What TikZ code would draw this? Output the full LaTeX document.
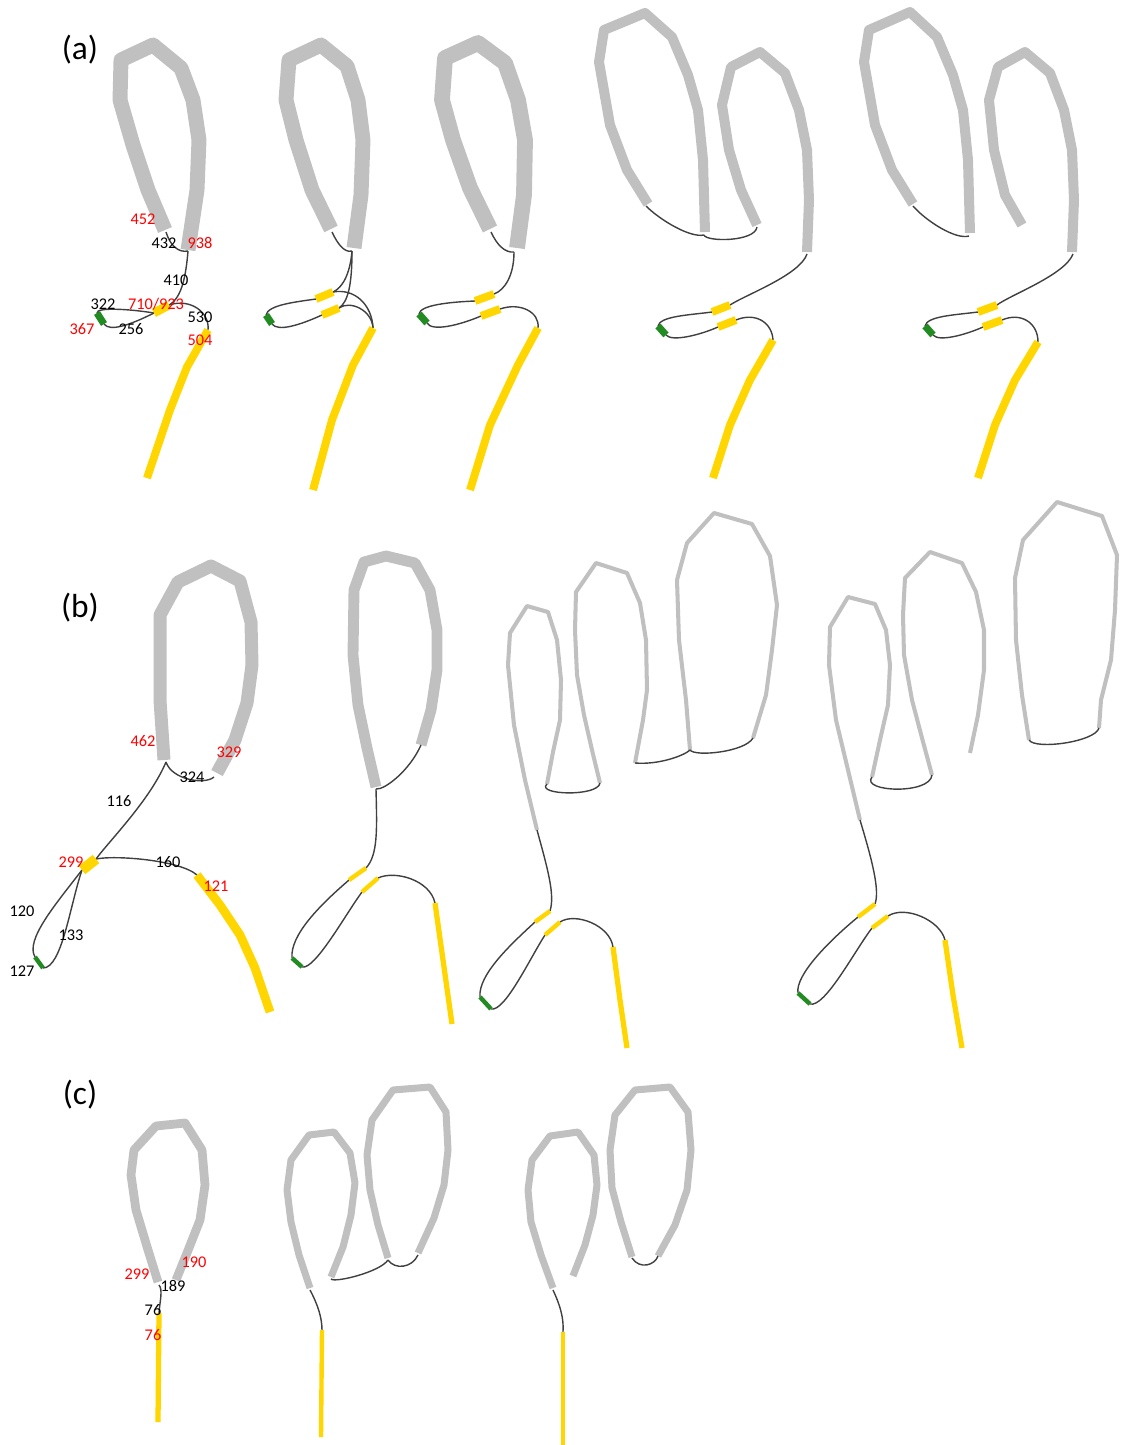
\documentclass[tikz,border=0pt]{standalone}
\usepackage{fontspec}
\setmainfont{Carlito}
\usetikzlibrary{calc,positioning}

\definecolor{helixgrey}{RGB}{192,192,192}
\definecolor{strandyellow}{RGB}{255,214,0}
\definecolor{turngreen}{RGB}{34,139,34}
\definecolor{loopgrey}{RGB}{64,64,64}

\tikzset{
  helix/.style={draw=helixgrey,line width=#1,line join=round},
  strand/.style={draw=strandyellow,line width=#1},
  turn/.style={draw=turngreen,line width=#1},
  link/.style={draw=loopgrey,line width=0.8pt},
  num/.style={inner sep=0pt,font=\fontsize{9.3}{10}\selectfont},
  rnum/.style={num,text=red},
  panel/.style={inner sep=0pt,font=\fontsize{19}{22}\selectfont}
}

\begin{document}
\begin{tikzpicture}[x=0.02cm,y=-0.02cm]
  \useasboundingbox (0,0) rectangle (1129,1445);

  \node[panel] (pa) at (80,50) {(a)};
  \node[panel] (pb) at (80,608) {(b)};
  \node[panel] (pc) at (80,1095) {(c)};

  % (a) first
  \begin{scope}
    \draw[helix=8.5pt] (165,230) -- (148,190) -- (133,145) -- (120,100) -- (121,60) -- (153,45)
      -- (181,68) -- (193,100) -- (199,140) -- (197,190) -- (188,250);
    \coordinate (a1h1) at (166,232);
    \coordinate (a1h2) at (188,251);
    \coordinate (a1s1) at (154,313);
    \coordinate (a1s2) at (169,305);
    \coordinate (a1g1) at (97,313);
    \coordinate (a1g2) at (104,324);
    \coordinate (a1t) at (208,330);
    \draw[link] (a1h1) .. controls (170,245) and (178,253) .. (a1h2);
    \draw[link] (a1h2) .. controls (186,275) and (182,298) .. (a1s2);
    \draw[link] (a1g1) .. controls (96,307) and (130,309) .. (a1s1);
    \draw[link] (a1g2) .. controls (110,332) and (130,325) .. (a1s1);
    \draw[link] (a1s2) .. controls (190,298) and (210,312) .. (a1t);
    \draw[strand=5pt] (a1s1) -- (a1s2);
    \draw[turn=4pt] (a1g1) -- (a1g2);
    \draw[strand=4.5pt] (a1t) -- (187,367) -- (170,410) -- (147,478);
    \node[rnum] (l452) at (143,219) {452};
    \node[num] (l432) at (164,243) {432};
    \node[rnum] (l938) at (200,243) {938};
    \node[num] (l410) at (176,280) {410};
    \node[num] (l322) at (103,304) {322};
    \node[rnum] (l710) at (156,304) {710/923};
    \node[rnum] (l367) at (82,329) {367};
    \node[num] (l256) at (131,329) {256};
    \node[num] (l530) at (200,317) {530};
    \node[rnum] (l504) at (200,340) {504};
  \end{scope}

  % (a) second
  \begin{scope}
    \draw[helix=8.5pt] (331,229) -- (312,190) -- (296,140) -- (286,100) -- (289,60) -- (321,45)
      -- (347,66) -- (358,100) -- (363,140) -- (361,195) -- (354,248);
    \coordinate (a2h1) at (332,232);
    \coordinate (a2h2) at (352,251);
    \coordinate (a2u1) at (316,299);
    \coordinate (a2u2) at (333,292);
    \coordinate (a2l1) at (322,315);
    \coordinate (a2l2) at (339,308);
    \coordinate (a2g1) at (266,315);
    \coordinate (a2g2) at (272,324);
    \coordinate (a2t) at (373,328);
    \draw[link] (a2h1) .. controls (338,245) and (345,253) .. (a2h2);
    \draw[link] (a2h2) .. controls (350,275) and (342,288) .. (a2u2);
    \draw[link] (a2h2) .. controls (352,285) and (348,302) .. (a2l2);
    \draw[link] (a2u2) .. controls (355,288) and (372,305) .. (a2t);
    \draw[link] (a2l2) .. controls (350,300) and (372,310) .. (a2t);
    \draw[link] (a2g1) .. controls (268,305) and (295,302) .. (a2u1);
    \draw[link] (a2g2) .. controls (278,332) and (300,325) .. (a2l1);
    \draw[strand=4.5pt] (a2u1) -- (a2u2);
    \draw[strand=4.5pt] (a2l1) -- (a2l2);
    \draw[turn=4pt] (a2g1) -- (a2g2);
    \draw[strand=4.5pt] (a2t) -- (353,365) -- (332,420) -- (313,490);
  \end{scope}

  % (a) third
  \begin{scope}
    \draw[helix=9pt] (490,229) -- (470,188) -- (453,140) -- (442,100) -- (445,58) -- (478,43)
      -- (505,63) -- (518,100) -- (525,140) -- (524,195) -- (517,248);
    \coordinate (a3h1) at (491,232);
    \coordinate (a3h2) at (514,252);
    \coordinate (a3u1) at (475,301);
    \coordinate (a3u2) at (494,294);
    \coordinate (a3l1) at (481,316);
    \coordinate (a3l2) at (500,309);
    \coordinate (a3g1) at (419,314);
    \coordinate (a3g2) at (427,323);
    \coordinate (a3t) at (538,328);
    \draw[link] (a3h1) .. controls (497,245) and (505,253) .. (a3h2);
    \draw[link] (a3h2) .. controls (514,275) and (505,290) .. (a3u2);
    \draw[link] (a3g1) .. controls (420,305) and (450,302) .. (a3u1);
    \draw[link] (a3g2) .. controls (432,332) and (460,325) .. (a3l1);
    \draw[link] (a3l2) .. controls (520,302) and (540,312) .. (a3t);
    \draw[strand=4.5pt] (a3u1) -- (a3u2);
    \draw[strand=4.5pt] (a3l1) -- (a3l2);
    \draw[turn=4pt] (a3g1) -- (a3g2);
    \draw[strand=4.5pt] (a3t) -- (518,365) -- (490,425) -- (470,490);
  \end{scope}

  % (a) fourth
  \begin{scope}
    \draw[helix=5.7pt] (648,204) -- (627,170) -- (610,125) -- (599,62) -- (604,30) -- (645,13)
      -- (672,37) -- (688,75) -- (698,110) -- (703,160) -- (705,232);
    \draw[helix=5.7pt] (757,225) -- (741,190) -- (729,150) -- (722,105) -- (731,67) -- (760,52)
      -- (785,73) -- (799,110) -- (807,150) -- (809,200) -- (807,252);
    \coordinate (a4h1) at (646,206);
    \coordinate (a4h2) at (704,235);
    \coordinate (a4h3) at (757,227);
    \coordinate (a4h4) at (807,254);
    \coordinate (a4u1) at (712,312);
    \coordinate (a4u2) at (730,305);
    \coordinate (a4l1) at (718,327);
    \coordinate (a4l2) at (736,320);
    \coordinate (a4g1) at (658,326);
    \coordinate (a4g2) at (666,335);
    \coordinate (a4t) at (773,340);
    \draw[link] (a4h1) .. controls (660,220) and (690,238) .. (a4h2);
    \draw[link] (a4h2) .. controls (706,242) and (755,242) .. (a4h3);
    \draw[link] (a4h4) .. controls (800,275) and (745,295) .. (a4u2);
    \draw[link] (a4g1) .. controls (660,316) and (690,315) .. (a4u1);
    \draw[link] (a4g2) .. controls (672,342) and (700,335) .. (a4l1);
    \draw[link] (a4l2) .. controls (755,312) and (772,322) .. (a4t);
    \draw[strand=4.5pt] (a4u1) -- (a4u2);
    \draw[strand=4.5pt] (a4l1) -- (a4l2);
    \draw[turn=4pt] (a4g1) -- (a4g2);
    \draw[strand=4.5pt] (a4t) -- (750,380) -- (730,425) -- (713,478);
  \end{scope}

  % (a) fifth
  \begin{scope}
    \draw[helix=5.7pt] (913,204) -- (892,170) -- (875,125) -- (864,62) -- (869,30) -- (910,12)
      -- (937,37) -- (953,75) -- (963,110) -- (968,160) -- (970,233);
    \draw[helix=5.7pt] (1022,225) -- (1005,195) -- (994,150) -- (989,100) -- (998,67) -- (1025,52)
      -- (1050,73) -- (1064,110) -- (1072,150) -- (1074,200) -- (1072,252);
    \coordinate (a5h1) at (913,206);
    \coordinate (a5h2) at (969,236);
    \coordinate (a5h4) at (1073,254);
    \coordinate (a5u1) at (978,312);
    \coordinate (a5u2) at (997,305);
    \coordinate (a5l1) at (983,327);
    \coordinate (a5l2) at (1002,320);
    \coordinate (a5g1) at (925,326);
    \coordinate (a5g2) at (933,335);
    \coordinate (a5t) at (1038,342);
    \draw[link] (a5h1) .. controls (925,220) and (955,240) .. (a5h2);
    \draw[link] (a5h4) .. controls (1065,275) and (1010,295) .. (a5u2);
    \draw[link] (a5g1) .. controls (927,316) and (955,315) .. (a5u1);
    \draw[link] (a5g2) .. controls (939,342) and (965,335) .. (a5l1);
    \draw[link] (a5l2) .. controls (1020,312) and (1038,322) .. (a5t);
    \draw[strand=4.5pt] (a5u1) -- (a5u2);
    \draw[strand=4.5pt] (a5l1) -- (a5l2);
    \draw[turn=4pt] (a5g1) -- (a5g2);
    \draw[strand=4.5pt] (a5t) -- (1015,380) -- (995,425) -- (978,478);
  \end{scope}

  % (b) first
  \begin{scope}
    \draw[helix=7.4pt] (164,760) -- (160,700) -- (160,615) -- (178,582) -- (211,566) -- (240,581)
      -- (251,622) -- (252,665) -- (247,703) -- (235,740) -- (217,773);
    \coordinate (b1h1) at (166,762);
    \coordinate (b1h2) at (214,777);
    \coordinate (b1y1) at (82,870);
    \coordinate (b1y2) at (96,859);
    \coordinate (b1g1) at (35,957);
    \coordinate (b1g2) at (43,968);
    \coordinate (b1t) at (197,875);
    \draw[link] (b1h1) .. controls (172,780) and (205,785) .. (b1h2);
    \draw[link] (b1h1) .. controls (150,800) and (110,840) .. (b1y2);
    \draw[link] (b1y2) .. controls (115,855) and (180,860) .. (b1t);
    \draw[link] (b1y1) .. controls (55,905) and (25,940) .. (b1g1);
    \draw[link] (b1y1) .. controls (70,905) and (62,968) .. (b1g2);
    \draw[strand=6pt] (b1y1) -- (b1y2);
    \draw[turn=2.5pt] (b1g1) -- (b1g2);
    \draw[strand=5pt] (b1t) -- (220,905) -- (240,935) -- (255,968) -- (270,1012);
    \node[rnum] (l462) at (143,741) {462};
    \node[rnum] (l329) at (229,752) {329};
    \node[num] (l324) at (192,777) {324};
    \node[num] (l116) at (119,801) {116};
    \node[rnum] (l299) at (71,862) {299};
    \node[num] (l160) at (168,862) {160};
    \node[rnum] (l121) at (216,886) {121};
    \node[num] (l120) at (22,911) {120};
    \node[num] (l133) at (71,935) {133};
    \node[num] (l127) at (22,971) {127};
  \end{scope}

  % (b) second
  \begin{scope}
    \draw[helix=6.2pt] (376,787) -- (367,748) -- (358,705) -- (353,655) -- (354,590) -- (364,562)
      -- (386,556) -- (415,563) -- (430,590) -- (437,630) -- (437,670) -- (431,710) -- (421,745);
    \coordinate (b2h1) at (376,789);
    \coordinate (b2h2) at (421,745);
    \coordinate (b2u1) at (349,880);
    \coordinate (b2u2) at (366,868);
    \coordinate (b2l1) at (362,892);
    \coordinate (b2l2) at (378,878);
    \coordinate (b2g1) at (292,958);
    \coordinate (b2g2) at (302,967);
    \coordinate (b2t) at (435,903);
    \draw[link] (b2h1) .. controls (385,790) and (410,770) .. (b2h2);
    \draw[link] (b2h1) .. controls (377,830) and (378,855) .. (b2u2);
    \draw[link] (b2u1) .. controls (320,905) and (290,935) .. (b2g1);
    \draw[link] (b2g2) .. controls (315,970) and (345,915) .. (b2l1);
    \draw[link] (b2l2) .. controls (395,870) and (430,880) .. (b2t);
    \draw[strand=2.5pt] (b2u1) -- (b2u2);
    \draw[strand=2.5pt] (b2l1) -- (b2l2);
    \draw[turn=2.5pt] (b2g1) -- (b2g2);
    \draw[strand=3pt] (b2t) -- (443,960) -- (452,1024);
  \end{scope}

  % (b) third
  \begin{scope}
    \draw[helix=2.3pt] (537,830) -- (525,780) -- (514,725) -- (508,665) -- (510,633) -- (527,606)
      -- (548,612) -- (557,640) -- (561,680) -- (560,720) -- (553,752) -- (547,784);
    \draw[helix=2.3pt] (600,783) -- (592,750) -- (584,715) -- (577,675) -- (575,630) -- (576,592)
      -- (596,563) -- (627,573) -- (640,603) -- (646,640) -- (647,690) -- (643,720) -- (635,763);
    \draw[helix=2.3pt] (690,750) -- (686,700) -- (679,640) -- (677,580) -- (687,543) -- (714,513)
      -- (752,524) -- (770,556) -- (777,605) -- (772,650) -- (766,695) -- (753,738);
    \coordinate (b3h1) at (537,830);
    \coordinate (b3h2) at (547,784);
    \coordinate (b3h3) at (600,783);
    \coordinate (b3h4) at (635,763);
    \coordinate (b3h5) at (690,750);
    \coordinate (b3h6) at (753,738);
    \coordinate (b3u1) at (535,922);
    \coordinate (b3u2) at (550,911);
    \coordinate (b3l1) at (545,935);
    \coordinate (b3l2) at (560,922);
    \coordinate (b3g1) at (480,997);
    \coordinate (b3g2) at (491,1009);
    \coordinate (b3t) at (613,947);
    \draw[link] (b3h1) .. controls (548,870) and (555,895) .. (b3u2);
    \draw[link] (b3h2) .. controls (535,795) and (598,797) .. (b3h3);
    \draw[link] (b3h4) .. controls (660,765) and (685,755) .. (b3h5);
    \draw[link] (b3h5) .. controls (695,757) and (745,752) .. (b3h6);
    \draw[link] (b3u1) .. controls (510,945) and (478,975) .. (b3g1);
    \draw[link] (b3g2) .. controls (505,1012) and (530,958) .. (b3l1);
    \draw[link] (b3l2) .. controls (575,912) and (610,925) .. (b3t);
    \draw[strand=2.5pt] (b3u1) -- (b3u2);
    \draw[strand=2.5pt] (b3l1) -- (b3l2);
    \draw[turn=2.5pt] (b3g1) -- (b3g2);
    \draw[strand=3pt] (b3t) -- (620,1000) -- (627,1048);
  \end{scope}

  % (b) fourth
  \begin{scope}
    \draw[helix=2.3pt] (860,820) -- (848,770) -- (836,720) -- (829,665) -- (830,627) -- (848,597)
      -- (875,604) -- (886,630) -- (890,665) -- (888,705) -- (880,740) -- (872,777);
    \draw[helix=2.3pt] (932,775) -- (922,738) -- (912,700) -- (904,655) -- (903,615) -- (905,578)
      -- (930,552) -- (962,563) -- (976,592) -- (984,630) -- (984,670) -- (978,715) -- (970,753);
    \draw[helix=2.3pt] (1029,740) -- (1022,695) -- (1016,640) -- (1015,578) -- (1023,540) -- (1057,502)
      -- (1102,516) -- (1117,555) -- (1115,610) -- (1111,660) -- (1101,700) -- (1099,728);
    \coordinate (b4h1) at (860,820);
    \coordinate (b4h2) at (872,777);
    \coordinate (b4h3) at (932,775);
    \coordinate (b4h5) at (1029,740);
    \coordinate (b4h6) at (1099,728);
    \coordinate (b4u1) at (858,917);
    \coordinate (b4u2) at (875,904);
    \coordinate (b4l1) at (872,928);
    \coordinate (b4l2) at (888,916);
    \coordinate (b4g1) at (798,993);
    \coordinate (b4g2) at (810,1004);
    \coordinate (b4t) at (945,940);
    \draw[link] (b4h1) .. controls (872,860) and (880,890) .. (b4u2);
    \draw[link] (b4h2) .. controls (860,792) and (930,795) .. (b4h3);
    \draw[link] (b4h5) .. controls (1035,750) and (1095,742) .. (b4h6);
    \draw[link] (b4u1) .. controls (830,940) and (795,975) .. (b4g1);
    \draw[link] (b4g2) .. controls (825,1008) and (855,950) .. (b4l1);
    \draw[link] (b4l2) .. controls (905,905) and (940,920) .. (b4t);
    \draw[strand=2.5pt] (b4u1) -- (b4u2);
    \draw[strand=2.5pt] (b4l1) -- (b4l2);
    \draw[turn=2.5pt] (b4g1) -- (b4g2);
    \draw[strand=3pt] (b4t) -- (953,995) -- (962,1048);
  \end{scope}

  % (c) first
  \begin{scope}
    \draw[helix=5pt] (158,1282) -- (148,1250) -- (136,1210) -- (131,1175) -- (134,1150) -- (156,1126)
      -- (185,1123) -- (202,1150) -- (205,1185) -- (200,1220) -- (187,1253) -- (176,1280);
    \coordinate (c1h1) at (159,1285);
    \coordinate (c1s) at (159,1313);
    \draw[link] (c1h1) .. controls (163,1290) and (160,1300) .. (c1s);
    \draw[strand=3pt] (c1s) -- (158,1422);
    \node[rnum] (c299) at (137,1274) {299};
    \node[rnum] (c190) at (194,1262) {190};
    \node[num] (c189) at (173,1286) {189};
    \node[num] (c76) at (153,1310) {76};
    \node[rnum] (c76r) at (153,1335) {76};
  \end{scope}

  % (c) second
  \begin{scope}
    \draw[helix=4pt] (310,1288) -- (299,1255) -- (291,1222) -- (287,1190) -- (291,1160) -- (309,1135)
      -- (334,1132) -- (350,1153) -- (355,1183) -- (351,1215) -- (343,1247) -- (331,1277);
    \draw[helix=4pt] (388,1258) -- (378,1225) -- (370,1190) -- (367,1155) -- (372,1120) -- (393,1090)
      -- (430,1087) -- (446,1112) -- (448,1150) -- (444,1185) -- (434,1218) -- (418,1253);
    \coordinate (c2h1) at (310,1290);
    \coordinate (c2h2) at (331,1279);
    \coordinate (c2h3) at (388,1260);
    \coordinate (c2h4) at (418,1255);
    \coordinate (c2s) at (322,1330);
    \draw[link] (c2h1) .. controls (318,1305) and (322,1318) .. (c2s);
    \draw[link] (c2h2) .. controls (335,1283) and (380,1272) .. (c2h3);
    \draw[link] (c2h3) .. controls (395,1270) and (412,1268) .. (c2h4);
    \draw[strand=2.5pt] (c2s) -- (321,1437);
  \end{scope}

  % (c) third
  \begin{scope}
    \draw[helix=4pt] (553,1288) -- (541,1255) -- (531,1222) -- (528,1190) -- (532,1160) -- (550,1136)
      -- (578,1132) -- (594,1155) -- (597,1185) -- (593,1215) -- (585,1245) -- (573,1276);
    \draw[helix=4pt] (632,1257) -- (621,1222) -- (612,1188) -- (610,1150) -- (615,1115) -- (635,1090)
      -- (670,1087) -- (688,1112) -- (691,1150) -- (687,1190) -- (675,1225) -- (658,1256);
    \coordinate (c3h1) at (553,1290);
    \coordinate (c3h2) at (632,1258);
    \coordinate (c3h3) at (658,1256);
    \coordinate (c3s) at (563,1332);
    \draw[link] (c3h1) .. controls (560,1305) and (564,1318) .. (c3s);
    \draw[link] (c3h2) .. controls (640,1270) and (655,1265) .. (c3h3);
    \draw[strand=2.5pt] (c3s) -- (563,1445);
  \end{scope}
\end{tikzpicture}
\end{document}
